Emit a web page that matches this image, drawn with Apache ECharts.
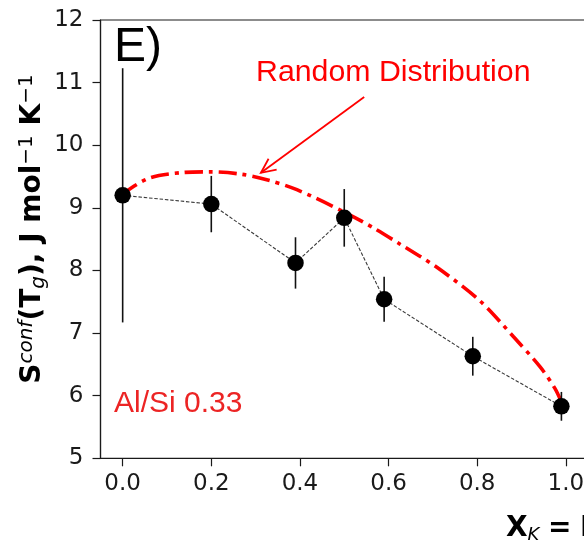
<!DOCTYPE html>
<html>
<head>
<meta charset="utf-8">
<script src="https://cdn.jsdelivr.net/npm/echarts@6/dist/echarts.min.js"></script>
<style>
  html, body { margin: 0; padding: 0; background: #fff; }
  #chart { width: 584px; height: 544px; }
</style>
</head>
<body>
<div id="chart"></div>
<script>
// Potassium fraction K/(K+Na) of each glass
const xK = [0.0, 0.2, 0.39, 0.5, 0.59, 0.79, 0.99];
// Configurational entropy at Tg, J mol-1 K-1
const sConf = [9.20, 9.06, 8.12, 8.84, 7.54, 6.63, 5.83];
// Half-width of the error bars
const sErr = [2.03, 0.45, 0.41, 0.46, 0.36, 0.31, 0.23];

// Random-distribution model curve
const randX = [0.0, 0.009, 0.062, 0.137, 0.197, 0.265, 0.325, 0.393, 0.498, 0.566, 0.626, 0.709, 0.807, 0.882, 0.942, 0.975, 0.99];
const randS = [9.20, 9.27, 9.48, 9.565, 9.575, 9.54, 9.45, 9.29, 8.94, 8.68, 8.42, 8.05, 7.51, 6.94, 6.46, 6.12, 5.90];

// Tick positions
const xTicks = [0.0, 0.2, 0.4, 0.6, 0.8, 1.0];
const yTicks = [5, 6, 7, 8, 9, 10, 11, 12];

// Annotation arrow (tail, head) in data units
const arrowTail = [0.545, 10.77];
const arrowHead = [0.312, 9.56];

const TICK_FONT = 'DejaVu Sans';

const chart = echarts.init(document.getElementById('chart'), null, { renderer: 'canvas' });

const axisLineStyle = { color: '#1a1a1a', width: 1.2 };

const option = {
  animation: false,
  backgroundColor: '#ffffff',
  grid: {
    left: 100.5, top: 20, width: 487.5, height: 438.3,
    show: true, borderColor: '#1a1a1a', borderWidth: 1.2,
    backgroundColor: 'transparent',
    containLabel: false, outerBoundsMode: 'none'
  },
  xAxis: {
    type: 'value', min: -0.05, max: 1.05,
    axisLine: { show: true, onZero: false, lineStyle: axisLineStyle },
    axisTick: { show: true, inside: false, length: 8, lineStyle: { color: '#1a1a1a', width: 1.2 }, customValues: xTicks },
    axisLabel: {
      show: true, margin: 14, color: '#1a1a1a', fontFamily: TICK_FONT, fontSize: 23,
      customValues: xTicks, formatter: v => v.toFixed(1)
    },
    splitLine: { show: false }
  },
  yAxis: {
    type: 'value', min: yTicks[0], max: yTicks[yTicks.length - 1], interval: 1,
    axisLine: { show: true, onZero: false, lineStyle: axisLineStyle },
    axisTick: { show: true, inside: false, length: 8, lineStyle: { color: '#1a1a1a', width: 1.2 } },
    axisLabel: { show: true, margin: 17, color: '#1a1a1a', fontFamily: TICK_FONT, fontSize: 23 },
    splitLine: { show: false }
  },
  series: [
    {
      name: 'Random Distribution',
      type: 'line',
      data: randX.map((x, i) => [x, randS[i]]),
      showSymbol: false, symbol: 'none',
      smooth: 0.3,
      lineStyle: { color: '#ff0000', width: 3.6, type: [18, 6, 4, 6], cap: 'butt' },
      z: 2
    },
    {
      name: 'connector',
      type: 'line',
      data: xK.map((x, i) => [x, sConf[i]]),
      showSymbol: false, symbol: 'none',
      lineStyle: { color: '#3a3a3a', width: 1.1, type: [3.5, 1.8] },
      z: 3
    },
    {
      name: 'error',
      type: 'custom',
      data: xK.map((x, i) => [x, sConf[i] - sErr[i], sConf[i] + sErr[i]]),
      encode: { x: 0, y: [1, 2] },
      renderItem: (params, api) => {
        const x = api.value(0);
        const lo = api.coord([x, api.value(1)]);
        const hi = api.coord([x, api.value(2)]);
        return {
          type: 'line',
          shape: { x1: lo[0], y1: lo[1], x2: hi[0], y2: hi[1] },
          style: { stroke: '#111111', lineWidth: 1.6 }
        };
      },
      z: 4
    },
    {
      name: 'Sconf',
      type: 'scatter',
      data: xK.map((x, i) => [x, sConf[i]]),
      symbol: 'circle', symbolSize: 16.5,
      itemStyle: { color: '#000000', opacity: 1 },
      z: 5
    }
  ]
};

chart.setOption(option);

// Arrow from the model label to its curve
const tail = chart.convertToPixel({ gridIndex: 0 }, arrowTail);
const head = chart.convertToPixel({ gridIndex: 0 }, arrowHead);
const dx = tail[0] - head[0], dy = tail[1] - head[1];
const len = Math.hypot(dx, dy);
const ux = dx / len, uy = dy / len;
const wing = (ang) => {
  const c = Math.cos(ang), s = Math.sin(ang);
  return [head[0] + 16 * (ux * c - uy * s), head[1] + 16 * (ux * s + uy * c)];
};
const w1 = wing(0.44), w2 = wing(-0.44);

const boldStyle = { fontFamily: TICK_FONT, fontWeight: 'bold', fontSize: 28, lineHeight: 32, color: '#000' };

chart.setOption({
  graphic: [
    {
      type: 'line', z: 10,
      shape: { x1: tail[0], y1: tail[1], x2: head[0], y2: head[1] },
      style: { stroke: '#ff0000', lineWidth: 1.8 }
    },
    {
      type: 'polyline', z: 10,
      shape: { points: [w1, head, w2] },
      style: { stroke: '#ff0000', lineWidth: 1.8, fill: null }
    },
    {
      type: 'text', z: 10, x: 256, y: 72.5,
      style: { text: 'Random Distribution', fill: '#ff0000', font: '30.3px "Liberation Sans"', align: 'left', verticalAlign: 'middle' }
    },
    {
      type: 'text', z: 10, x: 114, y: 404,
      style: { text: 'Al/Si 0.33', fill: '#ec2424', font: '30px "Liberation Sans"', align: 'left', verticalAlign: 'middle' }
    },
    {
      type: 'text', z: 10, x: 114, y: 47.5,
      style: { text: 'E)', fill: '#000000', font: '48px "Liberation Sans"', align: 'left', verticalAlign: 'middle' }
    },
    {
      // y-axis title
      type: 'text', z: 10, x: 33, y: 229, rotation: Math.PI / 2,
      style: {
        text: '{b|S}{sup|conf}{b|(T}{sub|g}{b|), J mol}{supr|\u22121}{b| K}{supr|\u22121}',
        align: 'center', verticalAlign: 'middle', fill: '#000',
        rich: {
          b: boldStyle,
          sup: { fontFamily: TICK_FONT, fontStyle: 'italic', fontSize: 20, verticalAlign: 'top', lineHeight: 20, color: '#000' },
          supr: { fontFamily: TICK_FONT, fontSize: 20, verticalAlign: 'top', lineHeight: 20, color: '#000' },
          sub: { fontFamily: TICK_FONT, fontStyle: 'italic', fontSize: 20, verticalAlign: 'bottom', lineHeight: 20, color: '#000' }
        }
      }
    },
    {
      // x-axis title
      type: 'text', z: 10, x: 506, y: 528.5,
      style: {
        text: '{b|X}{sub|K}{sp| }{b|=}{sp| }{b|K/(K+Na)}',
        align: 'left', verticalAlign: 'middle', fill: '#000',
        rich: {
          b: boldStyle,
          sp: { fontFamily: TICK_FONT, fontSize: 27, lineHeight: 20, color: '#000' },
          sub: { fontFamily: TICK_FONT, fontStyle: 'italic', fontSize: 18, verticalAlign: 'bottom', lineHeight: 18, color: '#000' }
        }
      }
    }
  ]
});
</script>
</body>
</html>
